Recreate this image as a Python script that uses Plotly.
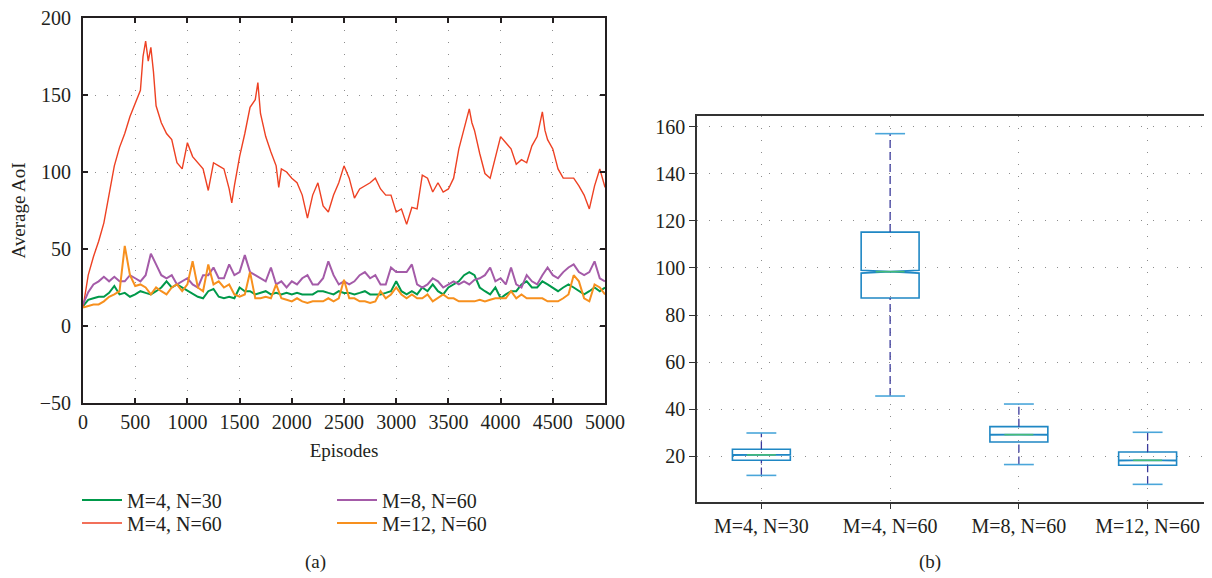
import plotly.graph_objects as go

# ---------------- data: (a) Average AoI vs episodes ----------------
episodes = [0, 50, 100, 150, 200, 250, 300, 350, 400, 450, 500, 550, 600, 650, 700, 750, 800, 850, 900, 950,
            1000, 1050, 1100, 1150, 1200, 1250, 1300, 1350, 1400, 1450, 1500, 1550, 1600, 1650, 1700, 1750,
            1800, 1850, 1900, 1950, 2000, 2050, 2100, 2150, 2200, 2250, 2300, 2350, 2400, 2450, 2500, 2550,
            2600, 2650, 2700, 2750, 2800, 2850, 2900, 2950, 3000, 3050, 3100, 3150, 3200, 3250, 3300, 3350,
            3400, 3450, 3500, 3550, 3600, 3650, 3700, 3750, 3800, 3850, 3900, 3950, 4000, 4050, 4100, 4150,
            4200, 4250, 4300, 4350, 4400, 4450, 4500, 4550, 4600, 4650, 4700, 4750, 4800, 4850, 4900, 4950, 5000]

aoi_m4_n30 = [13, 17, 18, 19, 19, 21.5, 26, 20.5, 21.5, 19, 20.5, 22.6, 21.5, 20.5, 22.6, 25, 29, 25, 27, 25,
              22.6, 20.5, 19, 18, 22.6, 24, 19, 18, 19, 18, 25, 22.6, 22.6, 20.5, 21.5, 22.6,
              20.5, 21.5, 20.5, 21.5, 20.5, 21.5, 20.5, 20.5, 20.5, 22.6, 22.6, 21.5, 20.5, 22.6, 21.5, 21.5,
              20.5, 21.5, 22.6, 20.5, 20.5, 20.5, 21.5, 22.6, 29, 22.6, 20.5, 22.6, 20.5, 25, 22.6, 27,
              22.6, 20.5, 25, 27, 29, 33, 35, 33, 25, 22.6, 20.5, 25, 18, 20.5, 22.6, 22.6,
              27, 29, 25, 25, 29, 27, 25, 22.6, 25, 27, 25, 22.6, 20.5, 22.6, 25, 22.6, 25]

aoi_m8_n60 = [14, 22, 27, 29, 32, 29, 32, 29, 29, 33, 31, 29, 33, 47, 40, 33, 31, 33, 27, 29,
              31, 27, 25, 33, 33, 38, 31, 31, 40, 33, 35, 46, 35, 33, 31, 29,
              38, 27, 29, 25, 29, 27, 31, 33, 27, 27, 31, 42, 33, 27, 29, 27,
              29, 33, 35, 31, 33, 27, 27, 38, 35, 35, 35, 40, 27, 25, 27, 31,
              29, 25, 27, 29, 27, 29, 27, 30, 31, 33, 38, 29, 31, 27, 38, 27,
              25, 33, 29, 27, 33, 38, 33, 31, 35, 38, 40, 35, 33, 35, 42, 31, 29]

aoi_m12_n60 = [12, 13, 14, 14, 16, 19, 20.5, 22.6, 52, 33, 26, 27, 25, 20.5, 25, 22.6, 20.5, 25, 27, 22.6,
               27, 42, 25, 22.6, 40, 27, 29, 25, 27, 20.5, 19, 20.5, 35, 18, 18, 19,
               18, 27, 18, 17, 16, 18, 16, 15, 16, 16, 16, 18, 16, 18, 30, 18,
               18, 16, 16, 15, 16, 22.6, 18, 20.5, 25, 20.5, 18, 20.5, 18, 18, 20.5, 16,
               18, 20.5, 18, 18, 16, 16, 16, 16, 17, 16, 17, 18, 18, 18, 22.6, 18,
               20.5, 18, 18, 18, 18, 16, 16, 16, 18, 20.5, 33, 29, 18, 16, 27, 25, 20.5]

episodes_m4_n60 = [0, 50, 100, 150, 200, 250, 300, 350, 400, 450, 500, 550, 575, 600, 625, 650, 675, 700, 750,
                   800, 850, 900, 950, 1000, 1050, 1100, 1150, 1200, 1250, 1300, 1350, 1400, 1425, 1450, 1500,
                   1550, 1600, 1650, 1675, 1700, 1750, 1800, 1850, 1875, 1900, 1950, 2000, 2050, 2100, 2150,
                   2200, 2250, 2300, 2350, 2400, 2450, 2500, 2550, 2600, 2650, 2700, 2750, 2800, 2850, 2900,
                   2950, 3000, 3050, 3100, 3150, 3200, 3250, 3300, 3350, 3400, 3450, 3500, 3550, 3600, 3650,
                   3700, 3725, 3750, 3800, 3850, 3900, 3950, 4000, 4050, 4100, 4150, 4200, 4250, 4300, 4350,
                   4400, 4425, 4450, 4500, 4550, 4600, 4650, 4700, 4750, 4800, 4850, 4900, 4950, 5000]
aoi_m4_n60 = [12, 33, 45, 55, 67, 85, 104, 116, 125, 136, 145, 153, 175, 185, 172, 181, 165, 143, 132,
              125, 121, 106, 102, 119, 110, 106, 102, 88, 106, 104, 102, 89, 80, 91, 110,
              125, 142, 147, 158, 138, 123, 113, 104, 90, 102, 100, 96, 93, 85, 70,
              85, 93, 78, 74, 85, 93, 104, 96, 83, 89, 91, 93, 96, 89, 85,
              85, 74, 76, 66, 77, 76, 98, 96, 87, 93, 87, 89, 96, 115, 128,
              141, 132, 127, 112, 99, 96, 110, 123, 119, 115, 105, 108, 106, 117, 123,
              139, 127, 121, 115, 102, 96, 96, 96, 91, 85, 76, 91, 102, 90]

series_names = ["M=4, N=30", "M=4, N=60", "M=8, N=60", "M=12, N=60"]

# ---------------- data: (b) box plot statistics ----------------
box_categories = ["M=4, N=30", "M=4, N=60", "M=8, N=60", "M=12, N=60"]
box_q1 = [18.3, 87.2, 26.1, 16.2]
box_median = [20.6, 98.4, 29.2, 18.3]
box_q3 = [23.0, 115.2, 32.6, 21.8]
box_lower = [11.9, 45.6, 16.5, 8.1]
box_upper = [29.9, 157.0, 42.2, 30.2]
box_notch = [0.10, 0.62, 0.14, 0.12]

# ---------------- styles ----------------
FONT = "'Liberation Serif', 'Times New Roman', Times, serif"
TXT = "#231f20"
# page body has an 8px default margin: figure is sized to fit the 1212x578 window
W, H = 1204, 570
colors = {"M=4, N=30": "#00994a", "M=4, N=60": "#ee4123", "M=8, N=60": "#a45ba8", "M=12, N=60": "#f7901e"}
BOX_C = "#1f87c4"
CAP_C = "#4aa6da"
WHISK_C = "#3b3b9c"
MED_C = "#45bb78"
GRID_C = "#8c8c8c"

fig = go.Figure()

# legend rows: row 1 -> green, purple ; row 2 -> red, orange
line_sets = [
    ("M=4, N=30", episodes, aoi_m4_n30, "legend", 2.0),
    ("M=4, N=60", episodes_m4_n60, aoi_m4_n60, "legend2", 1.4),
    ("M=8, N=60", episodes, aoi_m8_n60, "legend", 2.0),
    ("M=12, N=60", episodes, aoi_m12_n60, "legend2", 2.0),
]
for name, xs, ys, lg, lw in line_sets:
    fig.add_trace(go.Scatter(x=xs, y=ys, mode="lines", name=name, legend=lg,
                             line=dict(color=colors[name], width=lw), xaxis="x", yaxis="y"))

# box plot
BOX_W = 0.45
CAP_HALF = 0.116
for i, cat in enumerate(box_categories):
    pos = i + 1
    fig.add_trace(go.Box(x=[pos], q1=[box_q1[i]], median=[box_median[i]], q3=[box_q3[i]],
                         lowerfence=[box_q1[i]], upperfence=[box_q3[i]],
                         notched=True, notchspan=[box_notch[i]], notchwidth=0.5,
                         width=BOX_W, whiskerwidth=0, boxpoints=False,
                         line=dict(color=BOX_C, width=1.6), fillcolor="rgba(0,0,0,0)",
                         showlegend=False, hoverinfo="skip", xaxis="x2", yaxis="y2"))
    fig.add_trace(go.Scatter(x=[pos, pos, None, pos, pos],
                             y=[box_q3[i], box_upper[i], None, box_lower[i], box_q1[i]],
                             mode="lines", line=dict(color=WHISK_C, width=1.3, dash="8px,4px"),
                             showlegend=False, hoverinfo="skip", xaxis="x2", yaxis="y2"))
    fig.add_trace(go.Scatter(x=[pos - CAP_HALF, pos + CAP_HALF, None, pos - CAP_HALF, pos + CAP_HALF],
                             y=[box_upper[i], box_upper[i], None, box_lower[i], box_lower[i]],
                             mode="lines", line=dict(color=CAP_C, width=1.6),
                             showlegend=False, hoverinfo="skip", xaxis="x2", yaxis="y2"))
    fig.add_trace(go.Scatter(x=[pos - BOX_W / 4, pos + BOX_W / 4],
                             y=[box_median[i], box_median[i]],
                             mode="lines", line=dict(color=MED_C, width=1.6),
                             showlegend=False, hoverinfo="skip", xaxis="x2", yaxis="y2"))

FS = 19
TFS = 20
tickfont = dict(family=FONT, size=TFS, color=TXT)
dotgrid = dict(showgrid=True, gridcolor=GRID_C, gridwidth=1.2, griddash="1.4px,10.6px")

legend_common = dict(xanchor="left", yanchor="middle", orientation="h",
                     bgcolor="rgba(0,0,0,0)", font=dict(family=FONT, size=TFS, color=TXT),
                     itemwidth=40, entrywidthmode="pixels", entrywidth=200)

fig.update_layout(
    width=W, height=H, margin=dict(l=0, r=0, t=0, b=0, autoexpand=False),
    paper_bgcolor="white", plot_bgcolor="white",
    font=dict(family=FONT, size=FS, color=TXT),
    xaxis=dict(domain=[75 / W, 597 / W], range=[0, 5000], dtick=500, tick0=0, automargin=False,
               showline=True, linecolor=TXT, linewidth=2, mirror="ticks",
               ticks="inside", ticklen=5, tickwidth=1.6, tickcolor=TXT,
               tickfont=tickfont, zeroline=False, anchor="y", ticklabeloverflow="allow",
               title=dict(text="Episodes", font=dict(family=FONT, size=FS, color=TXT), standoff=12),
               **dotgrid),
    yaxis=dict(domain=[1 - 395 / H, 1 - 10 / H], range=[-50, 200], dtick=50, tick0=0, automargin=False,
               showline=True, linecolor=TXT, linewidth=2, mirror="ticks",
               ticks="inside", ticklen=5, tickwidth=1.6, tickcolor=TXT,
               tickfont=tickfont, zeroline=False, anchor="x", ticklabelstandoff=6,
               ticklabeloverflow="allow",
               title=dict(text="Average AoI", font=dict(family=FONT, size=FS, color=TXT), standoff=10),
               **dotgrid),
    xaxis2=dict(domain=[689 / W, 1.0], range=[0.5, 4.5], tickvals=[1, 2, 3, 4], ticktext=box_categories,
                automargin=False, ticklabeloverflow="allow",
                showline=True, linecolor="#333333", linewidth=1.6, mirror=True,
                ticks="outside", ticklen=5, tickwidth=1.4, tickcolor="#333333",
                tickfont=tickfont, zeroline=False, anchor="y2", **dotgrid),
    yaxis2=dict(domain=[1 - 494 / H, 1 - 108 / H], range=[0.6, 164.5], tickvals=[20, 40, 60, 80, 100, 120, 140, 160],
                automargin=False, ticklabeloverflow="allow",
                showline=True, linecolor="#333333", linewidth=1.6,
                ticks="outside", ticklen=6, tickwidth=1.4, tickcolor="#333333",
                tickfont=tickfont, zeroline=False, anchor="x2", **dotgrid),
    legend=dict(x=69 / W, y=1 - 492 / H, **legend_common),
    legend2=dict(x=69 / W, y=1 - 515 / H, **legend_common),
    annotations=[
        dict(text="(a)", x=307 / W, y=1 - 554 / H, xref="paper", yref="paper", showarrow=False,
             xanchor="center", yanchor="middle", font=dict(family=FONT, size=FS, color=TXT)),
        dict(text="(b)", x=922 / W, y=1 - 554 / H, xref="paper", yref="paper", showarrow=False,
             xanchor="center", yanchor="middle", font=dict(family=FONT, size=FS, color=TXT)),
    ],
)

fig.write_html("out.html")
